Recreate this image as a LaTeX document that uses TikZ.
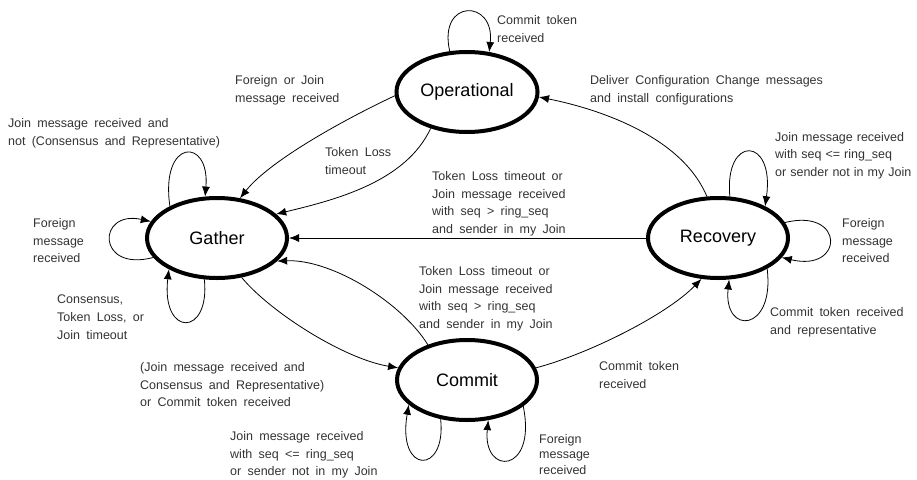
\documentclass[tikz,border=0pt]{standalone}
\usepackage{fontspec}
\setmainfont{Liberation Sans}[WordSpace=1.8]
\usetikzlibrary{shapes.geometric,arrows.meta}

\begin{document}
\begin{tikzpicture}[x=1pt, y=-1pt, >={Latex[length=10pt,width=8pt]},
            state/.style={ellipse, draw, line width=4pt, minimum width=140pt,
            minimum height=80pt, font=\fontsize{18}{18}\selectfont},
            txt/.style={anchor=north west, inner sep=0pt, align=left,
            text=black!80, font=\fontsize{12.5}{17.8}\selectfont},
            tight/.style={font=\fontsize{12.5}{17.5}\selectfont,
            execute at begin node={\spaceskip=4pt plus 1pt\relax}},
            close/.style={font=\fontsize{12.5}{15.5}\selectfont},
            trans/.style={->, line width=0.8pt}]

          \useasboundingbox (0,0) rectangle (917,479);

          \node[state] (O) at (467,92) {Operational};
          \node[state] (G) at (217,238) {Gather};
          \node[state] (R) at (718,238) {Recovery};
          \node[state] (C) at (467,380) {Commit};

          % transitions between states
          \draw[trans] (O.183) .. controls +(-45,21) and +(31,-39) .. (G.60);
          \draw[trans] (O.225) .. controls +(-25,54) and +(58,-14) .. (G.22);
          \draw[trans] (R.105) .. controls +(-25,-60) and +(60,12) .. (O.-4);
          \draw[trans] (R) -- (G);
          \draw[trans] (C.138) .. controls +(-26,-42) and +(55,-2) .. (G.-21);
          \draw[trans] (G.-58) .. controls +(29,35) and +(-54,-9) .. (C.170);
          \draw[trans] (C.10) .. controls +(53,-14) and +(-35,36) .. (R.248);

          % self loops
          \draw[trans] (O.113) .. controls +(-12,-53) and +(6,-53) .. (O.61);
          \draw[trans] (G.146) .. controls +(-10,-68) and +(5,-60) .. (G.106);
          \draw[trans] (G.197) .. controls +(-57,15) and +(-54,-12) .. (G.166);
          \draw[trans] (G.253) .. controls +(6,58) and +(-8,68) .. (G.213);
          \draw[trans] (R.74) .. controls +(-6,-62) and +(10,-70) .. (R.34);
          \draw[trans] (R.13) .. controls +(60,-15) and +(63,15) .. (R.-17);
          \draw[trans] (R.-32) .. controls +(8,64) and +(-6,56) .. (R.-75);
          \draw[trans] (C.236) .. controls +(6,56) and +(-12,70) .. (C.203);
          \draw[trans] (C.-25) .. controls +(14,68) and +(-6,56) .. (C.-62);

          % labels
          \node[txt] (lOO) at (497,15) {Commit token\\received};
          \node[txt] (lOG) at (235,75) {Foreign or Join\\message received};
          \node[txt] (lOGt) at (325,147) {Token Loss\\timeout};
          \node[txt] (lRO) at (590,75) {Deliver Configuration Change messages\\and install configurations};
          \node[txt] (lGGa) at (8,118) {Join message received and\\not (Consensus and Representative)};
          \node[txt] (lGGb) at (33,218) {Foreign\\message\\received};
          \node[txt] (lGGc) at (57,295) {Consensus,\\Token Loss, or\\Join timeout};
          \node[txt] (lRG) at (432,171) {Token Loss timeout or\\Join message received\\with seq > ring\_seq\\and sender in my Join};
          \node[txt] (lCG) at (419,266) {Token Loss timeout or\\Join message received\\with seq > ring\_seq\\and sender in my Join};
          \node[txt] (lGC) at (140,362) {(Join message received and\\Consensus and Representative)\\or Commit token received};
          \node[txt] (lCR) at (599,361) {Commit token\\received};
          \node[txt,tight] (lRRa) at (775,132) {Join message received\\with seq <= ring\_seq\\or sender not in my Join};
          \node[txt] (lRRb) at (842,218) {Foreign\\message\\received};
          \node[txt] (lRRc) at (770,307) {Commit token received\\and representative};
          \node[txt] (lCCa) at (230,431) {Join message received\\with seq <= ring\_seq\\or sender not in my Join};
          \node[txt,close] (lCCb) at (539,434) {Foreign\\message\\received};
        \end{tikzpicture}
\end{document}
